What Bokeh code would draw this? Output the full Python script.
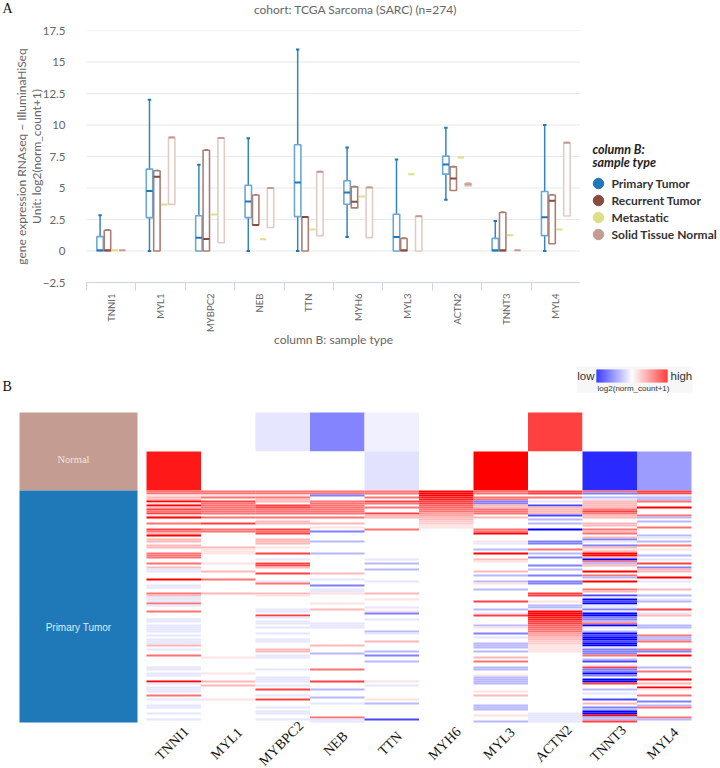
from math import pi
from bokeh.plotting import figure
from bokeh.layouts import row
from bokeh.models import (Range1d, LinearAxis, FixedTicker, Label, ColumnDataSource, LinearColorMapper)
from bokeh.embed import file_html
from bokeh.resources import INLINE

genes = ["TNNI1", "MYL1", "MYBPC2", "NEB", "TTN", "MYH6", "MYL3", "ACTN2", "TNNT3", "MYL4"]
sample_types = ["Primary Tumor", "Recurrent Tumor", "Metastatic", "Solid Tissue Normal"]
y_ticks = [-2.5, 0, 2.5, 5, 7.5, 10, 12.5, 15, 17.5]

# box statistics per sample type (log2(norm_count+1))
primary_hi = [2.84, 12.0, 6.84, 8.94, 16.0, 8.22, 7.27, 9.79, 2.39, 10.0]
primary_q3 = [1.14, 6.5, 2.8, 5.22, 8.43, 5.57, 2.92, 7.53, 1.0, 4.72]
primary_med = [0.05, 4.77, 1.05, 3.92, 5.44, 4.64, 1.11, 6.87, 0.05, 2.68]
primary_q1 = [0, 2.65, 0, 2.65, 2.73, 3.71, 0, 6.1, 0, 1.22]
primary_lo = [0, 0, 0, 0, 0, 1.11, 0, 4.06, 0, 0]

recurrent_hi = [1.65, 6.37, 8.0, 4.45, 2.7, 5.09, 1.0, 6.68, 3.05, 4.45]
recurrent_q3 = [1.65, 6.37, 8.0, 4.45, 2.7, 5.09, 1.0, 6.68, 3.05, 4.45]
recurrent_med = [0.05, 5.9, 0.95, 2.07, 2.7, 3.9, 0.05, 5.76, 0.05, 3.98]
recurrent_q1 = [0, 0, 0, 2.07, 0, 3.42, 0, 4.8, 0, 0.58]
recurrent_lo = [0, 0, 0, 2.07, 0, 3.42, 0, 4.8, 0, 0.58]

metastatic_med = [0.05, 3.69, 2.9, 0.93, 1.7, 4.32, 6.1, 7.43, 1.25, 1.7]

normal_hi = [0.05, 9.0, 8.97, 5.0, 6.29, 5.04, 2.76, 5.38, 0.05, 8.6]
normal_q3 = [0.05, 9.0, 8.97, 5.0, 6.29, 5.04, 2.76, 5.38, 0.05, 8.6]
normal_med = [0.05, 9.0, 8.97, 5.0, 6.29, 5.04, 2.76, 5.3, 0.05, 8.6]
normal_q1 = [0.05, 3.7, 0.66, 1.86, 1.22, 1.06, 0, 5.17, 0.05, 2.78]
normal_lo = [0.05, 3.7, 0.66, 1.86, 1.22, 1.06, 0, 5.17, 0.05, 2.78]

# heat map: the two header rows, relative expression from -1 (blue) to 1 (red)
normal_row = [0, 0, -0.1, -0.48, -0.06, 0, 0, 0.75, 0, 0]
second_row = [0.9, 0, 0, 0, -0.12, 0, 1.0, 0, -0.83, -0.39]

# heat map: primary tumour rows, one character per sample, read top to bottom
levels = {".": 0, "1": 0.12, "2": 0.28, "3": 0.55, "4": 0.75, "5": 1.0, "6": 0.88, "7": 0.62, "8": 0.39, "9": 0.2,
          "a": -0.1, "b": -0.28, "c": -0.5, "d": -0.72, "e": -1.0}
TNNI1 = ("3312251524 3415..3..4 325.22.22. .333..3.2a a...5..aa. .32aaa3a.. "
         "3...aa.aaa a.a.aaa2.a ..3.....aa .aa..5a.aa a.3.a..aa. .a..a.")
MYL1 = ("3313.43333 33.3..4..3 3.......21 11....1... 2...3..... .2........ "
        ".......... .......... ...1...... .1...2.2.. ....1..... ......")
MYBPC2 = ("331322.443 33.3.22..4 34..222.1. .4..a.442. .4...a3... .21......a "
          "a.4a.aa.a. .a..aa...2 2.aa.....a ...aaa.a.4 ..a.4...a. aa..a.")
NEB = ("33c..33333 33.3..2.1. c....b.... .b........ .2..a..c.a a1....1..2 "
       "......aaa. .......2.. .b.......3 .....4...b ...b..a... ...3aa")
TTN = ("33.3.43.3. .422.....3 .......... ....a.b..b .....a.... .2..1...a. "
       "1c..a..... ba...2.... b.c..b.... .....1.a.. ....1.b... ....d.")
MYH6 = ("5556644773 388229911. .......... .......... .......... .......... "
        ".......... .......... .......... .......... .......... ......")
MYL3 = ("33.33cc223 33.2.....3 35...1a..b .5..21.... 2.b..b1..b .....4...b "
        ".a4....b1. .c.a..bbb. b..2.3..bb ..1bbbb... 1.2....bbb ..1..b")
ACTN2 = ("44.3.a.d22 22d.b.b..e .....cc..3 .b.c...c.b ..c..cc... .44..1.bba "
         "5556644773 3882299111 1......... .......... .......... .aaaaa")
TNNT3 = ("3c.ba22223 4322..22.3 23.2ca.c21 2552e3b2.. 5.3b.5...3 2.daedeaac "
         "aeeccb3ea. bedeedeeac cc3.bd.a4c cec.ee4..b .a..d.2.cb ee5bb4")
MYL4 = ("44abb3..5. ..3b.b..3. ..ba.b.3.1 ..b.a.4.c2 2..5.a...2 ..b.ab...4 "
        ".a2....bb. ..3bb3...3 c.5.....b. 3...5.2.51 ..3..c.b3. ...3b.")
tumor_columns = [TNNI1, MYL1, MYBPC2, NEB, TTN, MYH6, MYL3, ACTN2, TNNT3, MYL4]

BLUE, BROWN, YELLOW, ROSE = "#1f78b8", "#874c40", "#dddf8a", "#c59c91"
SANS = "Lato"
GREY = "#666666"
HEAD_H = 20
FRAME_L, FRAME_R, FRAME_T, FRAME_B = 86, 580, 30, 282
PANEL_A_B = 352


def bare(**kw):
    f = figure(output_backend="svg", toolbar_location=None, x_axis_location=None, y_axis_location=None, margin=0, **kw)
    f.outline_line_color = None
    f.grid.visible = False
    return f


def put(fig, x, y, text, **kw):
    fig.add_layout(Label(x=x, y=y, x_units="screen", y_units="screen", text=text, text_baseline="middle", **kw))


# ---------- header strip ----------
head = bare(width=720, height=HEAD_H, x_range=Range1d(0, 720), y_range=Range1d(HEAD_H, 0), min_border=0)
put(head, 2, HEAD_H - 8, "A", text_font="Liberation Serif", text_font_size="14px", text_color="#111111")
put(head, 355, HEAD_H - 9, "cohort: TCGA Sarcoma (SARC) (n=274)", text_align="center",
    text_font=SANS, text_font_size="12px", text_color=GREY)

# ---------- panel A ----------
p1 = figure(width=FRAME_R, height=PANEL_A_B - HEAD_H, x_range=Range1d(0, 10), y_range=Range1d(-2.5, 17.5),
            output_backend="svg", toolbar_location=None, x_axis_location=None, y_axis_location=None,
            min_border_left=FRAME_L, min_border_right=0, min_border_top=FRAME_T - HEAD_H,
            min_border_bottom=PANEL_A_B - FRAME_B, margin=0)
p1.outline_line_color = None
p1.grid.visible = False

xax = LinearAxis(ticker=FixedTicker(ticks=[i + 0.5 for i in range(10)], minor_ticks=list(range(11))),
                 major_label_overrides={i + 0.5: g for i, g in enumerate(genes)},
                 major_label_orientation=pi / 2, major_tick_line_color=None, major_tick_out=8, major_tick_in=0,
                 minor_tick_out=8, minor_tick_in=0, minor_tick_line_color="#ccd6eb",
                 axis_line_color="#ccd6eb", major_label_text_color=GREY,
                 major_label_text_font=SANS, major_label_text_font_size="9.5px",
                 major_label_standoff=3,
                 axis_label="column B: sample type", axis_label_text_font=SANS,
                 axis_label_text_font_size="12px", axis_label_text_color=GREY,
                 axis_label_text_font_style="normal", axis_label_standoff=-3)
p1.add_layout(xax, "below")
yax = LinearAxis(ticker=FixedTicker(ticks=y_ticks),
                 major_label_overrides={t: ("−2.5" if t < 0 else ("%g" % t)) for t in y_ticks},
                 axis_line_color=None, major_tick_line_color=None, minor_tick_line_color=None,
                 major_label_text_color=GREY, major_label_text_font=SANS,
                 major_label_text_font_size="11.5px", major_label_standoff=15,
                 axis_label="gene expression RNAseq − IlluminaHiSeq\nUnit: log2(norm_count+1)",
                 axis_label_text_font=SANS, axis_label_text_font_size="12px", axis_label_text_color=GREY,
                 axis_label_text_font_style="normal", axis_label_standoff=-4, axis_label_text_line_height=1.0)
p1.add_layout(yax, "left")

p1.segment([0] * 8, y_ticks[1:], [10] * 8, y_ticks[1:], line_color="#e8e8e8", line_width=1.2)

series = [
    (BLUE, "#6aa8d8", -0.225, primary_lo, primary_q1, primary_med, primary_q3, primary_hi),
    (BROWN, "#ac7f75", -0.075, recurrent_lo, recurrent_q1, recurrent_med, recurrent_q3, recurrent_hi),
    (YELLOW, YELLOW, 0.075, metastatic_med, metastatic_med, metastatic_med, metastatic_med, metastatic_med),
    (ROSE, "#e2cbc5", 0.225, normal_lo, normal_q1, normal_med, normal_q3, normal_hi),
]
BOX_W, CAP_W = 0.13, 0.07
for colour, soft, off, lo, q1, med, q3, hi in series:
    xs = [i + 0.5 + off for i in range(10)]
    p1.segment(xs, lo, xs, hi, line_color=colour, line_width=1.5, line_alpha=0.9)
    hi_i = [i for i in range(10) if hi[i] > lo[i]]
    p1.segment([xs[i] - CAP_W / 2 for i in hi_i], [hi[i] for i in hi_i],
               [xs[i] + CAP_W / 2 for i in hi_i], [hi[i] for i in hi_i], line_color=colour, line_width=2)
    lo_i = [i for i in range(10) if lo[i] < q1[i]]
    p1.segment([xs[i] - CAP_W / 2 for i in lo_i], [lo[i] for i in lo_i],
               [xs[i] + CAP_W / 2 for i in lo_i], [lo[i] for i in lo_i], line_color=colour, line_width=2)
    box_i = [i for i in range(10) if q3[i] > q1[i]]
    p1.quad(left=[xs[i] - BOX_W / 2 for i in box_i], right=[xs[i] + BOX_W / 2 for i in box_i],
            bottom=[q1[i] for i in box_i], top=[q3[i] for i in box_i],
            fill_color="white", line_color=soft, line_width=1.6)
    p1.segment([x - BOX_W / 2 for x in xs], med, [x + BOX_W / 2 for x in xs], med,
               line_color=colour, line_width=2)

# ---------- legend strip, to the right of panel A ----------
leg = bare(width=720 - FRAME_R, height=PANEL_A_B - HEAD_H, x_range=Range1d(FRAME_R, 720),
           y_range=Range1d(FRAME_B, FRAME_T), min_border_left=0, min_border_right=0,
           min_border_top=FRAME_T - HEAD_H, min_border_bottom=PANEL_A_B - FRAME_B)
legend_y = [183, 200, 217, 234]
leg.scatter([598] * 4, legend_y, marker="circle", size=10.5, fill_color=[BLUE, BROWN, YELLOW, ROSE],
            line_color=[BLUE, BROWN, YELLOW, ROSE])
for t, y in zip(sample_types, legend_y):
    put(leg, 611 - FRAME_R, FRAME_B - y, t, text_font=SANS, text_font_size="12px", text_color="#333333",
        text_font_style="bold")
put(leg, 592 - FRAME_R, FRAME_B - 149, "column B:", text_font=SANS, text_font_size="12.5px",
    text_font_style="bold italic", text_color="#222222")
put(leg, 592 - FRAME_R, FRAME_B - 162, "sample type", text_font=SANS, text_font_size="12.5px",
    text_font_style="bold italic", text_color="#222222")

# ---------- panel B ----------
TOP_PX, ROW_PX, COL_PX, LEFT_PX = PANEL_A_B, 2.0, 54.5, 146.0
p2 = bare(width=720, height=416, x_range=Range1d(-LEFT_PX / COL_PX, (720 - LEFT_PX) / COL_PX),
          y_range=Range1d((768 - 490) / ROW_PX, (TOP_PX - 490) / ROW_PX), min_border=0)
p2.extra_x_ranges["px"] = Range1d(0, 720)
p2.extra_y_ranges["px"] = Range1d(768, TOP_PX)


def label_p2(x, y, text, **kw):
    put(p2, x, 768 - y, text, **kw)


mapper = LinearColorMapper(
    palette=["#%02x%02xff" % (i, i) for i in range(0, 255, 2)] + ["#ffffff"] +
            ["#ff%02x%02x" % (i, i) for i in range(254, -1, -2)],
    low=-1, high=1)

left, right, top, bottom, val = [], [], [], [], []
for i, g in enumerate(genes):
    left += [i, i]
    right += [i + 1, i + 1]
    top += [-39, -19.5]
    bottom += [-19.5, 0]
    val += [normal_row[i], second_row[i]]
    rows = tumor_columns[i].replace(" ", "")
    for r, ch in enumerate(rows):
        if ch != ".":
            left.append(i)
            right.append(i + 1)
            top.append(r)
            bottom.append(r + 1)
            val.append(levels[ch])
src = ColumnDataSource(dict(left=left, right=right, top=top, bottom=bottom, val=val))
p2.quad(left="left", right="right", top="top", bottom="bottom", source=src,
        fill_color={"field": "val", "transform": mapper}, line_color=None)

# clinical bar
p2.quad(left=[19, 19], right=[137, 137], top=[412, 490], bottom=[490, 722],
        fill_color=[ROSE, BLUE], line_color=None, x_range_name="px", y_range_name="px")
label_p2(73, 459, "Normal", text_align="center", text_font="Liberation Serif",
         text_font_size="10.5px", text_color="#f0e4e0")
label_p2(78, 627, "Primary Tumor", text_align="center", text_font="Liberation Sans",
         text_font_size="10px", text_color="#dcebf5")
label_p2(2, 386, "B", text_font="Liberation Serif", text_font_size="14px", text_color="#111111")

# gene labels
p2.text(x=[i + 0.47 for i in range(10)], y=[(743 - 490) / ROW_PX] * 10, text=genes, angle=pi / 4,
        text_align="center", text_baseline="middle", text_font={"value": "Liberation Serif"},
        text_font_size={"value": "14px"}, text_color="#111111")

# colour key
p2.quad(left=[576], right=[692], top=[366], bottom=[392], fill_color="#f7f7f7", line_color=None,
        x_range_name="px", y_range_name="px")
key_steps = list(range(71))
p2.quad(left=[596 + k for k in key_steps], right=[597 + k for k in key_steps], top=[369] * 71, bottom=[382] * 71,
        fill_color=[mapper.palette[int((k + 0.5) / 71 * 255)] for k in key_steps], line_color=None,
        x_range_name="px", y_range_name="px")
label_p2(594, 375, "low", text_align="right", text_font="Liberation Sans",
         text_font_size="11.5px", text_color="#333333")
label_p2(670, 375, "high", text_font="Liberation Sans", text_font_size="11.5px", text_color="#333333")
label_p2(633, 388, "log2(norm_count+1)", text_align="center",
         text_font="Liberation Sans", text_font_size="8px", text_color="#333333")

panel_a = row(p1, leg, spacing=0, margin=0)
open("out.html", "w").write(file_html([head, panel_a, p2], INLINE))
